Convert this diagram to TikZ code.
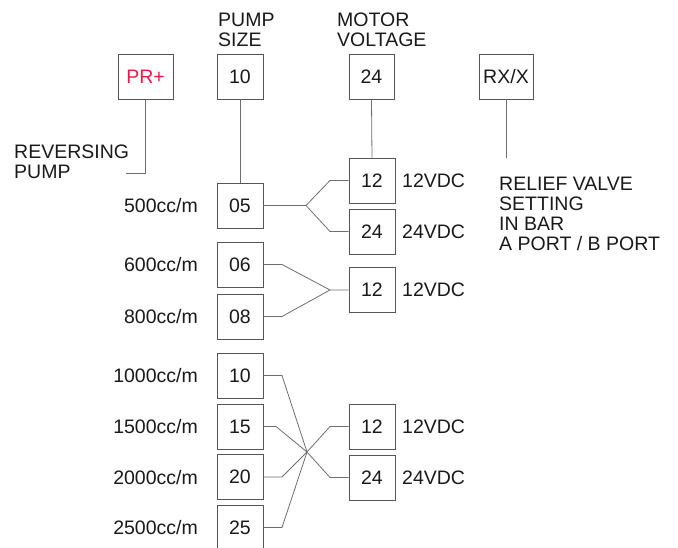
\documentclass[tikz,border=0pt]{standalone}
\usepackage{fontspec}
\setmainfont{Liberation Sans}
\definecolor{boxc}{RGB}{85,85,85}
\definecolor{linec}{RGB}{110,110,110}
\definecolor{txtc}{RGB}{25,25,25}
\definecolor{prred}{RGB}{228,28,72}
\begin{document}
\begin{tikzpicture}[x=1pt,y=-1pt,
  every node/.style={inner sep=0pt,text=txtc,font=\fontsize{19.5}{20}\selectfont},
  codebox/.style={draw=boxc,line width=0.8pt,minimum width=46pt,minimum height=45pt},
  conn/.style={draw=linec,line width=0.8pt},
  lbl/.style={anchor=base east},
  vdc/.style={anchor=base west},
  multi/.style={anchor=north west,align=left}]
\useasboundingbox (0,0) rectangle (678,548);
\clip (0,0) rectangle (678,548);
% headings
\node[multi] (hpump) at (218,13) {PUMP\\SIZE};
\node[multi] (hmotor) at (337,13) {MOTOR\\VOLTAGE};
% top code boxes
\node[codebox,minimum width=55pt,text=prred] (pr) at (145.5,76.5) {PR+};
\node[codebox] (t10) at (240,76.5) {10};
\node[codebox,minimum width=45pt] (t24) at (371.5,76.5) {24};
\node[codebox,minimum width=54pt] (rx) at (506,76.5) {RX/X};
% side texts
\node[multi] (rev) at (14,145) {REVERSING\\PUMP};
\node[multi] (relief) at (499,177) {RELIEF VALVE\\SETTING\\IN BAR\\A PORT / B PORT};
\coordinate (revend) at (126,173);
\coordinate (rxend) at (506,158);
\draw[conn] (pr.south) |- (revend);
\draw[conn] (rx.south) -- (rxend);
% pump size boxes
\node[codebox] (b05) at (240,205.5) {05};
\node[codebox] (b06) at (240,264.5) {06};
\node[codebox] (b08) at (240,316.5) {08};
\node[codebox] (b10) at (240,375.5) {10};
\node[codebox] (b15) at (240,426.5) {15};
\node[codebox] (b20) at (240,477) {20};
\node[codebox] (b25) at (240,527.5) {25};
% pump labels
\node[lbl] (l05) at (198,212.5) {500cc/m};
\node[lbl] (l06) at (198,271.5) {600cc/m};
\node[lbl] (l08) at (198,323.5) {800cc/m};
\node[lbl] (l10) at (198,382.5) {1000cc/m};
\node[lbl] (l15) at (198,433.5) {1500cc/m};
\node[lbl] (l20) at (198,484) {2000cc/m};
\node[lbl] (l25) at (198,534.5) {2500cc/m};
% voltage boxes
\node[codebox] (v12a) at (372,180.5) {12};
\node[codebox] (v24a) at (372,231.5) {24};
\node[codebox] (v12b) at (372,290) {12};
\node[codebox] (v12c) at (372,426.5) {12};
\node[codebox] (v24c) at (372,477.5) {24};
\node[vdc] (d12a) at (402,187.5) {12VDC};
\node[vdc] (d24a) at (402,238.5) {24VDC};
\node[vdc] (d12b) at (402,297) {12VDC};
\node[vdc] (d12c) at (402,433.5) {12VDC};
\node[vdc] (d24c) at (402,484.5) {24VDC};
% vertical links
\draw[conn] (t10.south) -- (b05.north);
\draw[conn] (t24.south) -- (v12a.north);
% fork 1
\coordinate (f1) at (306,205.5);
\draw[conn] (b05.east) -- (f1);
\draw[conn] (f1) -- (330,180.5) -- (v12a.west);
\draw[conn] (f1) -- (330,231.5) -- (v24a.west);
% fork 2
\coordinate (f2) at (330,290);
\draw[conn] (b06.east) -- (282,264.5) -- (f2) -- (v12b.west);
\draw[conn] (b08.east) -- (282,316.5) -- (f2);
% fork 3
\coordinate (f3) at (307,452);
\draw[conn] (b10.east) -- (282,375.5) -- (f3);
\draw[conn] (b15.east) -- (276,426.5) -- (f3);
\draw[conn] (b20.east) -- (282,477) -- (f3);
\draw[conn] (b25.east) -- (282,527.5) -- (f3);
\draw[conn] (f3) -- (330,426.5) -- (v12c.west);
\draw[conn] (f3) -- (330,477.5) -- (v24c.west);
\end{tikzpicture}
\end{document}
